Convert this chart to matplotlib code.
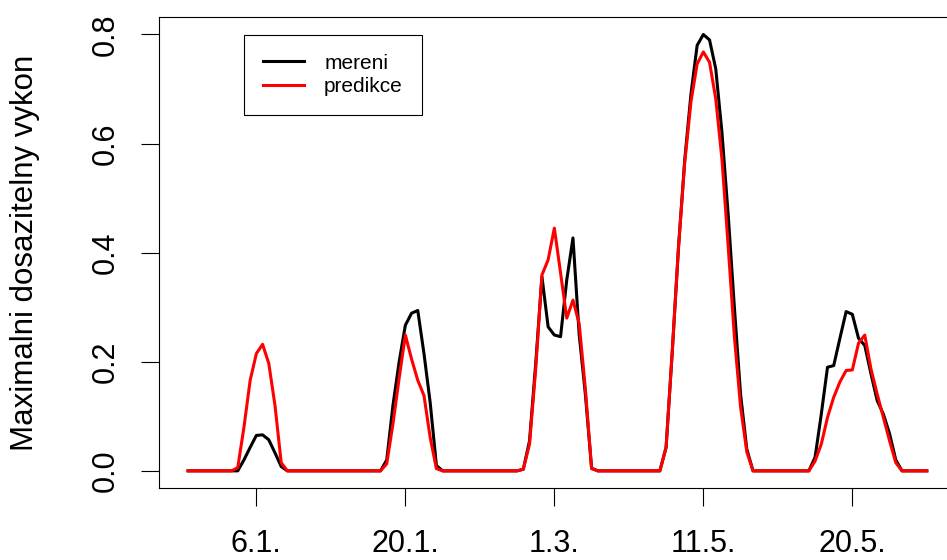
import numpy as np
import matplotlib
matplotlib.use("Agg")
import matplotlib.pyplot as plt

plt.rcParams['font.family'] = ['Liberation Sans', 'DejaVu Sans']

# hodinove hodnoty, 5 dni po 24 hodinach
mereni = [
    0, 0, 0, 0, 0, 0, 0, 0, 0, 0.02, 0.043, 0.065, 0.066, 0.057, 0.033, 0.008, 0, 0, 0, 0, 0, 0, 0, 0,
    0, 0, 0, 0, 0, 0, 0, 0, 0.02, 0.12, 0.2, 0.267, 0.289, 0.294, 0.215, 0.125, 0.01, 0, 0, 0, 0, 0, 0, 0,
    0, 0, 0, 0, 0, 0, 0.003, 0.055, 0.197, 0.356, 0.264, 0.249, 0.246, 0.35, 0.427, 0.25, 0.14, 0.005, 0, 0, 0, 0, 0, 0,
    0, 0, 0, 0, 0, 0.043, 0.22, 0.41, 0.57, 0.69, 0.78, 0.80, 0.79, 0.737, 0.62, 0.47, 0.30, 0.14, 0.04, 0, 0, 0, 0, 0,
    0, 0, 0, 0, 0, 0.025, 0.104, 0.19, 0.193, 0.243, 0.292, 0.287, 0.243, 0.23, 0.178, 0.129, 0.104, 0.068, 0.02, 0, 0, 0, 0, 0,
]
predikce = [
    0, 0, 0, 0, 0, 0, 0, 0, 0.006, 0.08, 0.166, 0.215, 0.232, 0.197, 0.12, 0.015, 0, 0, 0, 0, 0, 0, 0, 0,
    0, 0, 0, 0, 0, 0, 0, 0, 0.013, 0.086, 0.17, 0.249, 0.205, 0.166, 0.138, 0.061, 0.004, 0, 0, 0, 0, 0, 0, 0,
    0, 0, 0, 0, 0, 0, 0.003, 0.049, 0.187, 0.359, 0.387, 0.445, 0.363, 0.28, 0.313, 0.27, 0.15, 0.004, 0, 0, 0, 0, 0, 0,
    0, 0, 0, 0, 0, 0.043, 0.22, 0.41, 0.565, 0.676, 0.746, 0.768, 0.749, 0.682, 0.571, 0.412, 0.246, 0.117, 0.035, 0, 0, 0, 0, 0,
    0, 0, 0, 0, 0, 0.018, 0.049, 0.098, 0.135, 0.163, 0.184, 0.185, 0.234, 0.249, 0.187, 0.141, 0.098, 0.055, 0.015, 0, 0, 0, 0, 0,
]
tick_pos = [12, 36, 60, 84, 108]
tick_lab = ['6.1.', '20.1.', '1.3.', '11.5.', '20.5.']

x = np.arange(1, len(mereni) + 1)

fig = plt.figure(figsize=(9.47, 5.6), dpi=100)
# plot region runs slightly past the right edge, like the cropped original
ax = fig.add_axes([0.1674, 0.128, 0.8425, 0.8416])

ax.plot(x, mereni, color='black', lw=2.2, label='mereni')
ax.plot(x, predikce, color='red', lw=2.2, label='predikce')

ax.set_xlim(-3.76, 124.76)
ax.set_ylim(-0.032, 0.832)

ax.set_xticks(tick_pos)
ax.set_xticklabels(tick_lab)
ax.set_yticks([0, 0.2, 0.4, 0.6, 0.8])
ax.set_yticklabels(['0.0', '0.2', '0.4', '0.6', '0.8'], rotation=90, va='center')
ax.tick_params(axis='both', direction='out', length=13, width=0.8, labelsize=22)
ax.tick_params(axis='x', pad=16.5)
ax.tick_params(axis='y', pad=14)

for s in ax.spines.values():
    s.set_linewidth(0.8)

ax.set_ylabel('Maximalni dosazitelny vykon', fontsize=22.5)
ax.yaxis.set_label_coords(-0.167, 0.5)
ax.yaxis.label.set_verticalalignment('center')

leg = ax.legend(loc='upper left', bbox_to_anchor=(0.107, 0.962), fontsize=15,
                fancybox=False, framealpha=1, edgecolor='black',
                handlelength=2.0, handletextpad=0.95, borderpad=0.9,
                labelspacing=0.22, borderaxespad=0)
leg.get_frame().set_linewidth(0.8)

plt.savefig('out.png', dpi=100)
